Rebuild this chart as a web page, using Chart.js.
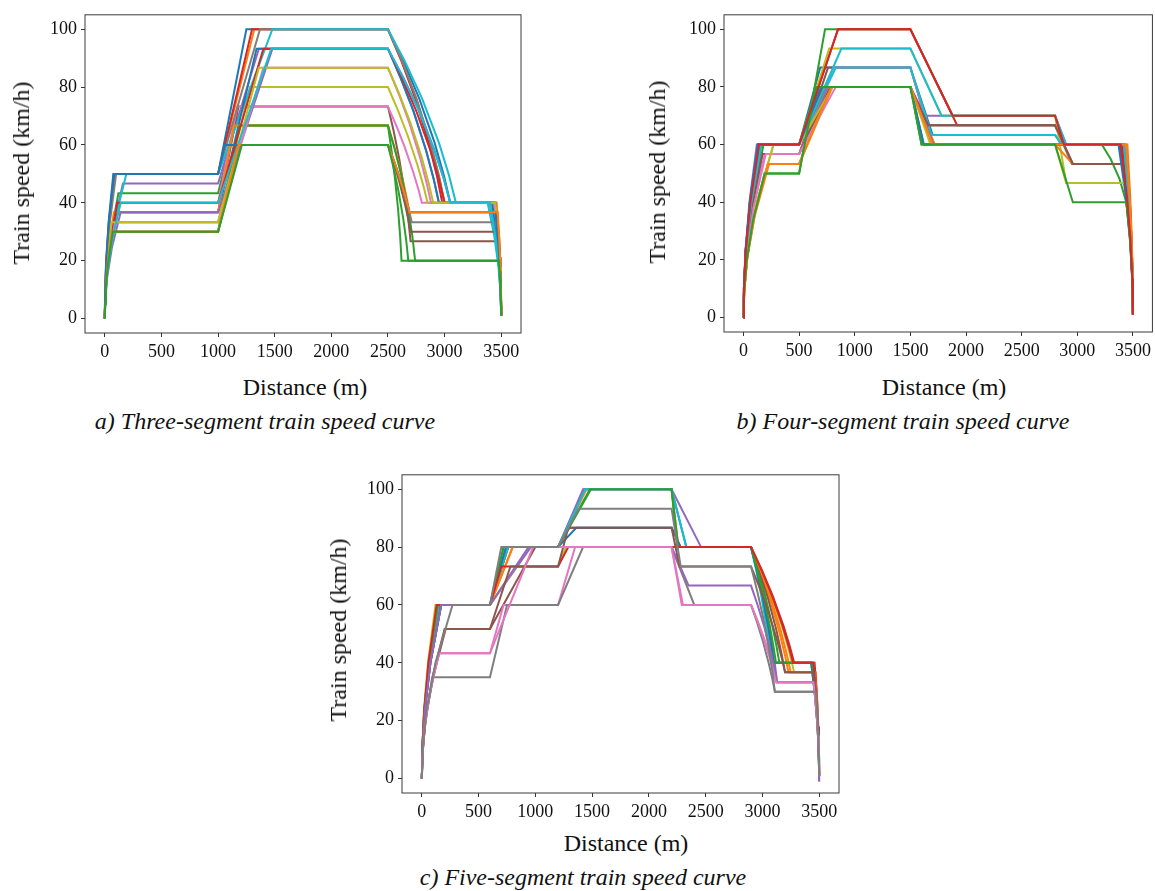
<!DOCTYPE html>
<html>
<head>
<meta charset="utf-8">
<script src="https://cdn.jsdelivr.net/npm/chart.js@4.4.0/dist/chart.umd.min.js"></script>
<style>
  body { margin: 0; background: #fff; width: 1155px; height: 891px; position: relative; overflow: hidden; font-family: "Liberation Serif", "Times New Roman", serif; color: #111; }
  .plot { position: absolute; }
  .label { position: absolute; font-size: 24px; line-height: 1; white-space: nowrap; transform: translate(-50%, -50%); }
  .ylab { transform: translate(-50%, -50%) rotate(-90deg); }
  .caption { font-style: italic; }
</style>
</head>
<body>

<div class="plot" style="left:0px; top:0px;"><canvas id="chartA" width="540" height="370"></canvas></div>
<div class="plot" style="left:640px; top:0px;"><canvas id="chartB" width="515" height="370"></canvas></div>
<div class="plot" style="left:320px; top:460px;"><canvas id="chartC" width="540" height="370"></canvas></div>

<div class="label ylab" style="left:21px; top:173px;">Train speed (km/h)</div>
<div class="label" style="left:305px; top:387px;">Distance (m)</div>
<div class="label caption" style="left:265px; top:421px;">a) Three-segment train speed curve</div>

<div class="label ylab" style="left:657px; top:172px;">Train speed (km/h)</div>
<div class="label" style="left:944px; top:387px;">Distance (m)</div>
<div class="label caption" style="left:903px; top:421px;">b) Four-segment train speed curve</div>

<div class="label ylab" style="left:338px; top:630px;">Train speed (km/h)</div>
<div class="label" style="left:626px; top:843px;">Distance (m)</div>
<div class="label caption" style="left:583px; top:877px;">c) Five-segment train speed curve</div>

<script>
// Tick labels
const distanceTicks = [0, 500, 1000, 1500, 2000, 2500, 3000, 3500];
const speedTicks = [0, 20, 40, 60, 80, 100];

// Speed curves: [distance (m), speed (km/h)]
// a) three segments: 0-1000, 1000-2500, 2500-3500
const threeSegmentRuns = [
  [[0,0],[2,8.5],[11,19.5],[34,33.5],[75,50],[1000,50],[1250,100],[2500,100],[2637,88.9],[2775,76.2],[2912,60.8],[2995,49.4],[3050,40],[3400,40],[3450,28.3],[3480,17.9],[3495,9],[3500,1]],
  [[0,0],[3,8.5],[14,19.5],[41,33.5],[90,50],[1000,50],[1320,100],[2500,100],[2625,88.9],[2750,76.2],[2875,60.8],[2950,49.4],[3000,40],[3460,40],[3480,28.3],[3492,17.9],[3498,9],[3500,1]],
  [[0,0],[4,7.4],[18,16.9],[54,29],[120,43.3],[1000,43.3],[1150,66.7],[2500,66.7],[2530,58.6],[2560,49.2],[2590,37.6],[2608,28.4],[2620,20],[3480,20],[3490,14.1],[3496,8.9],[3499,4.5],[3500,1]],
  [[0,0],[3,8.5],[13,19.5],[38,33.5],[85,50],[1000,50],[1300,100],[2500,100],[2620,88.9],[2740,76.2],[2860,60.8],[2932,49.4],[2980,40],[3440,40],[3470,28.3],[3488,17.9],[3497,9],[3500,1]],
  [[0,0],[5,7.9],[24,18.2],[72,31.3],[160,46.7],[1000,46.7],[1360,93.3],[2500,93.3],[2612,83.2],[2725,71.8],[2837,58.1],[2905,48.1],[2950,40],[3420,40],[3460,28.3],[3484,17.9],[3496,9],[3500,1]],
  [[0,0],[3,6.2],[15,14.3],[45,24.6],[100,36.7],[1000,36.7],[1180,73.3],[2500,73.3],[2550,64.9],[2600,55.2],[2650,43.3],[2680,34.3],[2700,26.7],[3470,26.7],[3485,18.9],[3494,11.9],[3499,6],[3500,1]],
  [[0,0],[4,6.8],[20,15.6],[58,26.8],[130,40],[1000,40],[1170,73.3],[2500,73.3],[2575,66.6],[2650,59.1],[2725,50.4],[2770,44.5],[2800,40],[3450,40],[3475,28.3],[3490,17.9],[3498,9],[3500,1]],
  [[0,0],[3,8.5],[15,19.5],[45,33.5],[100,50],[1000,50],[1370,100],[2500,100],[2625,88.9],[2750,76.2],[2875,60.8],[2950,49.4],[3000,40],[3450,40],[3475,28.3],[3490,17.9],[3498,9],[3500,1]],
  [[0,0],[2,5.7],[10,13],[32,22.3],[70,33.3],[1000,33.3],[1280,80],[2500,80],[2587,72.1],[2675,63.2],[2762,52.9],[2815,45.6],[2850,40],[3410,40],[3455,28.3],[3482,17.9],[3495,9],[3500,1]],
  [[0,0],[6,8.5],[28,19.5],[85,33.5],[190,50],[1000,50],[1480,100],[2500,100],[2650,88.9],[2800,76.2],[2950,60.8],[3040,49.4],[3100,40],[3380,40],[3440,28.3],[3476,17.9],[3494,9],[3500,1]],
  [[0,0],[3,6.2],[15,14.3],[45,24.6],[100,36.7],[1000,36.7],[1340,93.3],[2500,93.3],[2612,83.2],[2725,71.8],[2837,58.1],[2905,48.1],[2950,40],[3420,40],[3460,28.3],[3484,17.9],[3496,9],[3500,1]],
  [[0,0],[2,6.2],[12,14.3],[36,24.6],[80,36.7],[1000,36.7],[1140,66.7],[2500,66.7],[2547,60.6],[2595,53.8],[2642,46.1],[2671,40.7],[2690,36.7],[3460,36.7],[3480,25.9],[3492,16.4],[3498,8.2],[3500,1]],
  [[0,0],[2,5.1],[9,11.7],[27,20.1],[60,30],[1000,30],[1190,66.7],[2500,66.7],[2560,58.6],[2620,49.2],[2680,37.6],[2716,28.4],[2740,20],[3480,20],[3490,14.1],[3496,8.9],[3499,4.5],[3500,1]],
  [[0,0],[3,6.8],[16,15.6],[50,26.8],[110,40],[1000,40],[1400,93.3],[2500,93.3],[2625,83.2],[2750,71.8],[2875,58.1],[2950,48.1],[3000,40],[3450,40],[3475,28.3],[3490,17.9],[3498,9],[3500,1]],
  [[0,0],[4,6.2],[21,14.3],[63,24.6],[140,36.7],[1000,36.7],[1480,93.3],[2500,93.3],[2637,83.2],[2775,71.8],[2912,58.1],[2995,48.1],[3050,40],[3440,40],[3470,28.3],[3488,17.9],[3497,9],[3500,1]],
  [[0,0],[2,5.1],[9,11.7],[27,20.1],[60,30],[1000,30],[1170,60],[2500,60],[2550,54.1],[2600,47.4],[2650,39.7],[2680,34.2],[2700,30],[3480,30],[3490,21.2],[3496,13.4],[3499,6.7],[3500,1]],
  [[0,0],[3,5.7],[14,13],[41,22.3],[90,33.3],[1000,33.3],[1400,86.7],[2500,86.7],[2595,77.7],[2690,67.5],[2785,55.5],[2842,46.8],[2880,40],[3440,40],[3470,28.3],[3488,17.9],[3497,9],[3500,1]],
  [[0,0],[2,5.1],[10,11.7],[32,20.1],[70,30],[1000,30],[1200,60],[2500,60],[2552,54.6],[2605,48.5],[2657,41.6],[2689,36.9],[2710,33.3],[3460,33.3],[3480,23.5],[3492,14.9],[3498,7.5],[3500,1]],
  [[0,0],[2,5.7],[9,13],[27,22.3],[60,33.3],[1000,33.3],[1360,86.7],[2500,86.7],[2600,77.7],[2700,67.5],[2800,55.5],[2860,46.8],[2900,40],[3450,40],[3475,28.3],[3490,17.9],[3498,9],[3500,1]],
  [[0,0],[4,6.8],[21,15.6],[63,26.8],[140,40],[1000,40],[1470,93.3],[2500,93.3],[2637,83.2],[2775,71.8],[2912,58.1],[2995,48.1],[3050,40],[3400,40],[3450,28.3],[3480,17.9],[3495,9],[3500,1]],
  [[0,0],[2,8.5],[12,19.5],[36,33.5],[80,50],[1000,50],[1060,60],[2500,60],[2547,55.1],[2595,49.7],[2642,43.7],[2671,39.6],[2690,36.7],[3450,36.7],[3475,25.9],[3490,16.4],[3498,8.2],[3500,1]],
  [[0,0],[2,5.1],[9,11.7],[27,20.1],[60,30],[1000,30],[1180,60],[2500,60],[2547,55.1],[2595,49.7],[2642,43.7],[2671,39.6],[2690,36.7],[3470,36.7],[3485,25.9],[3494,16.4],[3499,8.2],[3500,1]],
  [[0,0],[2,5.1],[10,11.7],[32,20.1],[70,30],[1000,30],[1210,60],[2500,60],[2545,52.9],[2590,44.7],[2635,34.6],[2662,26.8],[2680,20],[3480,20],[3490,14.1],[3496,8.9],[3499,4.5],[3500,1]]
];

// b) four segments: 0-500, 500-1500, 1500-2800, 2800-3500
const fourSegmentRuns = [
  [[0,0],[4,10.2],[20,23.4],[58,40.2],[130,60],[500,60],[690,86.7],[1500,86.7],[1700,63.3],[2800,63.3],[2860,60],[3380,60],[3440,42.4],[3476,26.8],[3494,13.4],[3500,1]],
  [[0,0],[7,9.1],[33,20.8],[99,35.7],[220,53.3],[500,53.3],[780,80],[1500,80],[1720,60],[3450,60],[3475,42.4],[3490,26.8],[3498,13.4],[3500,1]],
  [[0,0],[6,8.5],[28,19.5],[85,33.5],[190,50],[500,50],[733,100],[1500,100],[1880,70],[2800,70],[2880,60],[3220,60],[3300,55],[3380,48],[3440,40],[3470,30],[3488,20],[3497,10],[3500,1]],
  [[0,0],[4,10.2],[21,23.4],[63,40.2],[140,60],[500,60],[850,100],[1500,100],[1920,66.7],[2800,66.7],[2890,60],[3390,60],[3445,42.4],[3478,26.8],[3494,13.4],[3500,1]],
  [[0,0],[4,10.2],[18,23.4],[54,40.2],[120,60],[500,60],[700,80],[1500,80],[1630,70],[2800,70],[2900,60],[3400,60],[3450,42.4],[3480,26.8],[3495,13.4],[3500,1]],
  [[0,0],[5,9.6],[25,22.1],[76,38],[170,56.7],[500,56.7],[760,86.7],[1500,86.7],[1650,66.7],[2800,66.7],[2960,53.3],[3450,53.3],[3475,37.7],[3490,23.8],[3498,11.9],[3500,1]],
  [[0,0],[6,9.6],[28,22.1],[85,38],[190,56.7],[500,56.7],[810,86.7],[1500,86.7],[1680,63.3],[2800,63.3],[2860,60],[3430,60],[3465,42.4],[3486,26.8],[3496,13.4],[3500,1]],
  [[0,0],[5,10.2],[22,23.4],[68,40.2],[150,60],[500,60],[720,80],[1500,80],[1650,66.7],[2800,66.7],[2950,53.3],[3420,53.3],[3460,37.7],[3484,23.8],[3496,11.9],[3500,1]],
  [[0,0],[8,10.2],[40,23.4],[121,40.2],[270,60],[500,60],[770,93.3],[1500,93.3],[1780,70],[2800,70],[2900,46.7],[3430,46.7],[3465,33],[3486,20.9],[3496,10.5],[3500,1]],
  [[0,0],[5,10.2],[24,23.4],[72,40.2],[160,60],[500,60],[830,86.7],[1500,86.7],[1690,63.3],[2800,63.3],[2860,60],[3410,60],[3455,42.4],[3482,26.8],[3495,13.4],[3500,1]],
  [[0,0],[4,10.2],[20,23.4],[58,40.2],[130,60],[500,60],[680,80],[1500,80],[1620,60],[3370,60],[3435,42.4],[3474,26.8],[3493,13.4],[3500,1]],
  [[0,0],[7,9.1],[35,20.8],[104,35.7],[230,53.3],[500,53.3],[800,80],[1500,80],[1710,60],[2800,60],[2960,53.3],[3450,53.3],[3475,37.7],[3490,23.8],[3498,11.9],[3500,1]],
  [[0,0],[5,10.2],[27,23.4],[81,40.2],[180,60],[500,60],[660,80],[1500,80],[1600,60],[3420,60],[3460,42.4],[3484,26.8],[3496,13.4],[3500,1]],
  [[0,0],[5,10.2],[22,23.4],[68,40.2],[150,60],[500,60],[711,80],[1500,80],[1700,60],[3400,60],[3450,42.4],[3480,26.8],[3495,13.4],[3500,1]],
  [[0,0],[5,9.6],[22,22.1],[68,38],[150,56.7],[500,56.7],[760,80],[1500,80],[1710,60],[3420,60],[3460,42.4],[3484,26.8],[3496,13.4],[3500,1]],
  [[0,0],[5,9.6],[25,22.1],[76,38],[170,56.7],[500,56.7],[780,80],[1500,80],[1660,66.7],[2800,66.7],[2960,53.3],[3450,53.3],[3475,37.7],[3490,23.8],[3498,11.9],[3500,1]],
  [[0,0],[6,9.6],[30,22.1],[90,38],[200,56.7],[500,56.7],[830,80],[1500,80],[1700,60],[3430,60],[3465,42.4],[3486,26.8],[3496,13.4],[3500,1]],
  [[0,0],[5,10.2],[22,23.4],[68,40.2],[150,60],[500,60],[740,80],[1500,80],[1700,60],[3420,60],[3460,42.4],[3484,26.8],[3496,13.4],[3500,1]],
  [[0,0],[8,10.2],[40,23.4],[121,40.2],[270,60],[500,60],[800,80],[1500,80],[1680,60],[2800,60],[2900,46.7],[3440,46.7],[3470,33],[3488,20.9],[3497,10.5],[3500,1]],
  [[0,0],[5,10.2],[24,23.4],[72,40.2],[160,60],[500,60],[880,93.3],[1500,93.3],[1780,70],[2800,70],[2900,60],[3420,60],[3460,42.4],[3484,26.8],[3496,13.4],[3500,1]],
  [[0,0],[4,10.2],[20,23.4],[58,40.2],[130,60],[500,60],[700,80],[1500,80],[1620,60],[3380,60],[3440,42.4],[3476,26.8],[3494,13.4],[3500,1]],
  [[0,0],[7,9.1],[33,20.8],[99,35.7],[220,53.3],[500,53.3],[790,80],[1500,80],[1700,60],[3440,60],[3470,42.4],[3488,26.8],[3497,13.4],[3500,1]],
  [[0,0],[6,8.5],[28,19.5],[85,33.5],[190,50],[500,50],[650,80],[1500,80],[1600,60],[2800,60],[2960,40],[3440,40],[3470,28.3],[3488,17.9],[3497,9],[3500,1]],
  [[0,0],[4,10.2],[21,23.4],[63,40.2],[140,60],[500,60],[850,100],[1500,100],[1880,70],[2800,70],[2880,60],[3390,60],[3445,42.4],[3478,26.8],[3494,13.4],[3500,1]]
];

// c) five segments: 0-600, 600-1200, 1200-2200, 2200-2900, 2900-3500
const fiveSegmentRuns = [
  [[0,0],[5,10.2],[25,23.4],[76,40.2],[170,60],[600,60],[760,80],[1200,80],[1430,100],[2200,100],[2330,80],[2900,80],[2950,72.1],[3000,63.2],[3050,52.9],[3080,45.6],[3100,40],[3440,40],[3470,28.3],[3488,17.9],[3497,9],[3500,1]],
  [[0,0],[5,10.2],[22,23.4],[68,40.2],[150,60],[600,60],[800,80],[1200,80],[1450,100],[2200,100],[2260,80],[2900,80],[2982,71.7],[3065,62.2],[3147,51.1],[3197,43],[3230,36.7],[3470,36.7],[3485,25.9],[3494,16.4],[3499,8.2],[3500,1]],
  [[0,0],[4,10.2],[21,23.4],[63,40.2],[140,60],[600,60],[720,80],[1200,80],[1490,100],[2200,100],[2250,80],[2900,80],[2962,72.1],[3025,63.2],[3087,52.9],[3125,45.6],[3150,40],[3430,40],[3465,28.3],[3486,17.9],[3496,9],[3500,1]],
  [[0,0],[5,10.2],[24,23.4],[72,40.2],[160,60],[600,60],[760,80],[2900,80],[2995,72.1],[3090,63.2],[3185,52.9],[3242,45.6],[3280,40],[3460,40],[3480,28.3],[3492,17.9],[3498,9],[3500,1]],
  [[0,0],[5,10.2],[25,23.4],[76,40.2],[170,60],[600,60],[960,80],[1200,80],[1420,100],[2200,100],[2460,80],[2900,80],[2957,71.3],[3015,61.3],[3072,49.3],[3107,40.5],[3130,33.3],[3470,33.3],[3485,23.5],[3494,14.9],[3499,7.5],[3500,-1]],
  [[0,0],[6,8.8],[32,20.2],[95,34.6],[210,51.7],[600,51.7],[1000,80],[1200,80],[1300,86.7],[2200,86.7],[2280,80],[2900,80],[2975,71.7],[3050,62.2],[3125,51.1],[3170,43],[3200,36.7],[3450,36.7],[3475,25.9],[3490,16.4],[3498,8.2],[3500,1]],
  [[0,0],[5,7.4],[22,16.9],[68,29],[150,43.3],[600,43.3],[720,60],[1200,60],[1350,80],[2200,80],[2300,60],[2900,60],[2957,54.6],[3015,48.5],[3072,41.6],[3107,36.9],[3130,33.3],[3460,33.3],[3480,23.5],[3492,14.9],[3498,7.5],[3500,1]],
  [[0,0],[3,6],[15,13.7],[45,23.5],[100,35],[600,35],[750,60],[1200,60],[1420,80],[2200,80],[2400,60],[2900,60],[2952,54.1],[3005,47.4],[3057,39.7],[3089,34.2],[3110,30],[3460,30],[3480,21.2],[3492,13.4],[3498,6.7],[3500,1]],
  [[0,0],[4,10.2],[18,23.4],[54,40.2],[120,60],[600,60],[830,73.3],[1200,73.3],[1270,80],[2900,80],[2995,71.7],[3090,62.2],[3185,51.1],[3242,43],[3280,36.7],[3450,36.7],[3475,25.9],[3490,16.4],[3498,8.2],[3500,1]],
  [[0,0],[5,10.2],[22,23.4],[68,40.2],[150,60],[600,60],[760,80],[1200,80],[1440,100],[2200,100],[2330,80],[2900,80],[2945,72.1],[2990,63.2],[3035,52.9],[3062,45.6],[3080,40],[3450,40],[3475,28.3],[3490,17.9],[3498,9],[3500,2]],
  [[0,0],[5,10.2],[25,23.4],[76,40.2],[170,60],[600,60],[740,80],[1200,80],[1360,86.7],[2200,86.7],[2280,80],[2900,80],[2950,72.1],[3000,63.2],[3050,52.9],[3080,45.6],[3100,40],[3430,40],[3465,28.3],[3486,17.9],[3496,9],[3500,1]],
  [[0,0],[4,10.2],[21,23.4],[63,40.2],[140,60],[600,60],[800,80],[2900,80],[2987,71.7],[3075,62.2],[3162,51.1],[3215,43],[3250,36.7],[3460,36.7],[3480,25.9],[3492,16.4],[3498,8.2],[3500,1]],
  [[0,0],[4,10.2],[21,23.4],[63,40.2],[140,60],[600,60],[720,80],[1200,80],[1480,100],[2200,100],[2260,80],[2900,80],[2955,72.1],[3010,63.2],[3065,52.9],[3098,45.6],[3120,40],[3440,40],[3470,28.3],[3488,17.9],[3497,9],[3500,1]],
  [[0,0],[4,10.2],[20,23.4],[58,40.2],[130,60],[600,60],[700,73.3],[1200,73.3],[1290,80],[2900,80],[2992,72.1],[3085,63.2],[3177,52.9],[3233,45.6],[3270,40],[3450,40],[3475,28.3],[3490,17.9],[3498,9],[3500,3]],
  [[0,0],[5,10.2],[25,23.4],[76,40.2],[170,60],[600,60],[940,80],[2200,80],[2350,66.7],[2900,66.7],[2957,60.1],[3015,52.7],[3072,44.1],[3107,38],[3130,33.3],[3460,33.3],[3480,23.5],[3492,14.9],[3498,7.5],[3500,-1]],
  [[0,0],[6,8.8],[30,20.2],[90,34.6],[200,51.7],[600,51.7],[780,73.3],[1200,73.3],[1290,86.7],[2200,86.7],[2270,73.3],[2900,73.3],[2975,66.1],[3050,58],[3125,48.5],[3170,41.8],[3200,36.7],[3450,36.7],[3475,25.9],[3490,16.4],[3498,8.2],[3500,1]],
  [[0,0],[5,7.4],[22,16.9],[68,29],[150,43.3],[600,43.3],[980,80],[2200,80],[2290,60],[2900,60],[2955,54.6],[3010,48.5],[3065,41.6],[3098,36.9],[3120,33.3],[3450,33.3],[3475,23.5],[3490,14.9],[3498,7.5],[3500,1]],
  [[0,0],[8,10.2],[40,23.4],[121,40.2],[270,60],[600,60],[700,80],[1200,80],[1380,93.3],[2200,93.3],[2280,73.3],[2900,73.3],[2952,65.2],[3005,56],[3057,44.9],[3089,36.7],[3110,30],[3470,30],[3485,21.2],[3494,13.4],[3499,6.7],[3500,1]]
];

// matplotlib tab10 cycle
const tab10 = ['#1f77b4', '#ff7f0e', '#2ca02c', '#d62728', '#9467bd', '#8c564b', '#e377c2', '#7f7f7f', '#bcbd22', '#17becf'];

// Full frame around the plot area
const frameBox = {
  id: 'frameBox',
  afterDraw(chart) {
    const { ctx, chartArea } = chart;
    ctx.save();
    ctx.strokeStyle = '#3a3a3a';
    ctx.lineWidth = 1;
    ctx.strokeRect(chartArea.left, chartArea.top, chartArea.right - chartArea.left, chartArea.bottom - chartArea.top);
    ctx.restore();
  }
};

function axisTicks(values) {
  return scale => { scale.ticks = values.map(v => ({ value: v })); };
}

function drawRuns(canvasId, runs, yWidth, xHeight, padTop, padRight) {
  const ctx = document.getElementById(canvasId).getContext('2d');
  const tickFont = { family: '"Liberation Serif", "Times New Roman", serif', size: 18 };
  return new Chart(ctx, {
    type: 'scatter',
    data: {
      datasets: runs.map((run, i) => ({
        data: run.map(p => ({ x: p[0], y: p[1] })),
        showLine: true,
        borderColor: tab10[i % 10],
        borderWidth: 2,
        pointRadius: 0,
        tension: 0,
        fill: false,
        order: -i   // later runs on top, like matplotlib
      }))
    },
    options: {
      responsive: false,
      animation: false,
      devicePixelRatio: 1,
      layout: { padding: { top: padTop, right: padRight, left: 0, bottom: 0 } },
      plugins: { legend: { display: false }, tooltip: { enabled: false } },
      scales: {
        x: {
          type: 'linear',
          min: -175,
          max: 3675,
          afterBuildTicks: axisTicks(distanceTicks),
          afterFit: s => { s.height = xHeight; },
          ticks: { font: tickFont, color: '#111', padding: 4, maxRotation: 0, autoSkip: false, callback: v => String(v) },
          grid: { drawOnChartArea: false, drawTicks: true, tickLength: 4, color: '#333' },
          border: { display: false }
        },
        y: {
          type: 'linear',
          min: -5,
          max: 105,
          afterBuildTicks: axisTicks(speedTicks),
          afterFit: s => { s.width = yWidth; },
          ticks: { font: tickFont, color: '#111', padding: 4, autoSkip: false, callback: v => String(v) },
          grid: { drawOnChartArea: false, drawTicks: true, tickLength: 4, color: '#333' },
          border: { display: false }
        }
      }
    },
    plugins: [frameBox]
  });
}

drawRuns('chartA', threeSegmentRuns, 85, 37, 9, 19);
drawRuns('chartB', fourSegmentRuns, 84, 38, 10, 1);
drawRuns('chartC', fiveSegmentRuns, 82, 37, 7, 21);
</script>
</body>
</html>
